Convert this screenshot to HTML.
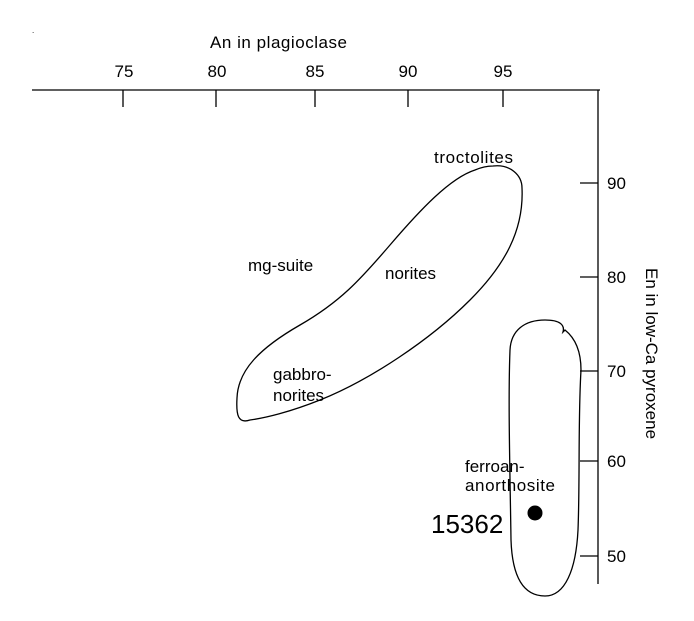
<!DOCTYPE html>
<html><head><style>
body{margin:0;background:#fff;}
svg{display:block;font-family:"Liberation Sans",sans-serif;}
</style></head><body>
<svg width="694" height="621" viewBox="0 0 694 621">
<g stroke="#000" stroke-width="1.3" fill="none">
<line x1="32" y1="90" x2="600" y2="90"/>
<line x1="123" y1="90" x2="123" y2="107"/>
<line x1="216" y1="90" x2="216" y2="107"/>
<line x1="315" y1="90" x2="315" y2="107"/>
<line x1="408" y1="90" x2="408" y2="107"/>
<line x1="503" y1="90" x2="503" y2="107"/>
<line x1="598" y1="90" x2="598" y2="584"/>
<line x1="580" y1="183" x2="598" y2="183"/>
<line x1="580" y1="277" x2="598" y2="277"/>
<line x1="580" y1="371" x2="598" y2="371"/>
<line x1="580" y1="461" x2="598" y2="461"/>
<line x1="580" y1="556" x2="598" y2="556"/>
<path d="M493,166 C510,164 522,175 522,188 C524,230 505,265 470,300 C430,340 370,380 320,400 C290,412 265,418 250,420 C238,424 236,415 237,398 C238,370 260,348 300,325 C340,302 360,280 390,245 C420,210 450,178 475,170 C482,167 488,166 493,166 Z"/>
<path d="M545,320 C560,320 565,325 563,332 L565,330 C575,338 581,350 581,370 C578,420 580,480 578,530 C576,570 565,596 545,596 C520,596 512,570 511,540 C510,470 508,400 510,350 C511,330 525,320 545,320 Z"/>
</g>
<circle cx="535" cy="513" r="7.5" fill="#000"/>
<g font-size="17" fill="#000">
<text x="32" y="33" font-size="8">.</text>
<text x="210" y="48" font-size="17" textLength="137">An in plagioclase</text>
<text x="124" y="77" text-anchor="middle">75</text>
<text x="217" y="77" text-anchor="middle">80</text>
<text x="315" y="77" text-anchor="middle">85</text>
<text x="408" y="77" text-anchor="middle">90</text>
<text x="503" y="77" text-anchor="middle">95</text>
<text x="607" y="189">90</text>
<text x="607" y="283">80</text>
<text x="607" y="377">70</text>
<text x="607" y="467">60</text>
<text x="607" y="562">50</text>
<text transform="translate(646,268) rotate(90)">En in low-Ca pyroxene</text>
<text x="434" y="163" textLength="79">troctolites</text>
<text x="248" y="271">mg-suite</text>
<text x="385" y="279">norites</text>
<text x="273" y="380">gabbro-</text>
<text x="273" y="401">norites</text>
<text x="465" y="472">ferroan-</text>
<text x="465" y="491" textLength="90">anorthosite</text>
<text x="431" y="533" font-size="26">15362</text>
</g>
</svg>
</body></html>
